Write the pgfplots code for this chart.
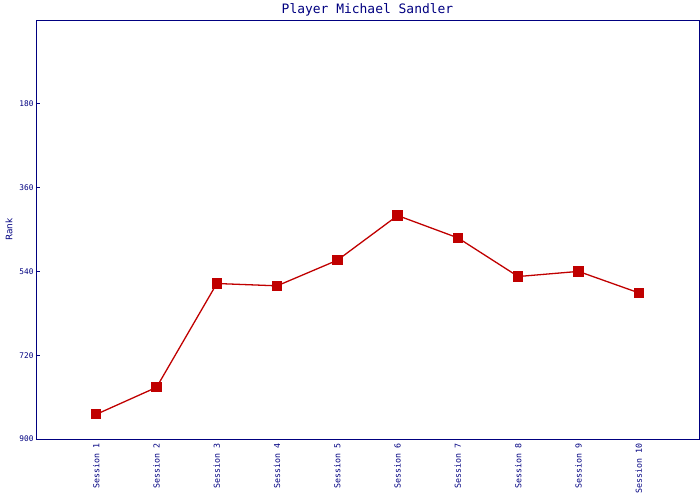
\documentclass[border=0pt]{standalone}
\usepackage{pgfplots}
\pgfplotsset{compat=1.18}
\usepackage{fontspec}
\setmainfont{DejaVu Sans Mono}
\newfontfamily\labelfont{DejaVu Sans}
\definecolor{axisnavy}{RGB}{0,0,128}
\definecolor{linered}{RGB}{192,0,0}

\begin{document}
\begin{tikzpicture}
\useasboundingbox (-36bp,-61bp) rectangle (664bp,439bp);
\begin{axis}[
  at={(0,0)}, anchor=south west,
  scale only axis,
  width=663bp, height=419bp,
  xmin=0, xmax=11,
  ymin=0, ymax=900,
  y dir=reverse,
  axis line style={axisnavy, line width=1pt},
  tick style={axisnavy, line width=1pt},
  xtick={1,...,10},
  xticklabels={Session 1,Session 2,Session 3,Session 4,Session 5,Session 6,Session 7,Session 8,Session 9,Session 10},
  x tick label style={rotate=90, anchor=east, font=\fontsize{8.3}{9}\selectfont, text=axisnavy, xshift=-1bp},
  x tick style={opacity=0},
  ytick={180,360,540,720,900},
  y tick label style={font=\fontsize{7.8}{9}\selectfont, text=axisnavy, xshift=1bp},
  /pgf/number format/assume math mode=true,
  tick pos=left,
  tick align=inside,
  major tick length=4.5bp,
  ylabel={\labelfont Rank},
  ylabel style={font=\fontsize{9}{10}\selectfont, text=axisnavy, at={(axis description cs:0,0.5)}, anchor=center, yshift=27bp},
  title={Player Michael Sandler},
  title style={font=\fontsize{13}{14}\selectfont, text=axisnavy, yshift=-6bp},
]
\addplot[linered, line width=1.3pt, mark=square*, mark size=4.5bp, mark options={fill=linered, draw=linered}]
coordinates {
(1,847) (2,789) (3,566) (4,571) (5,516)
(6,420) (7,468) (8,551) (9,540) (10,586)
};
\end{axis}
\end{tikzpicture}
\end{document}
